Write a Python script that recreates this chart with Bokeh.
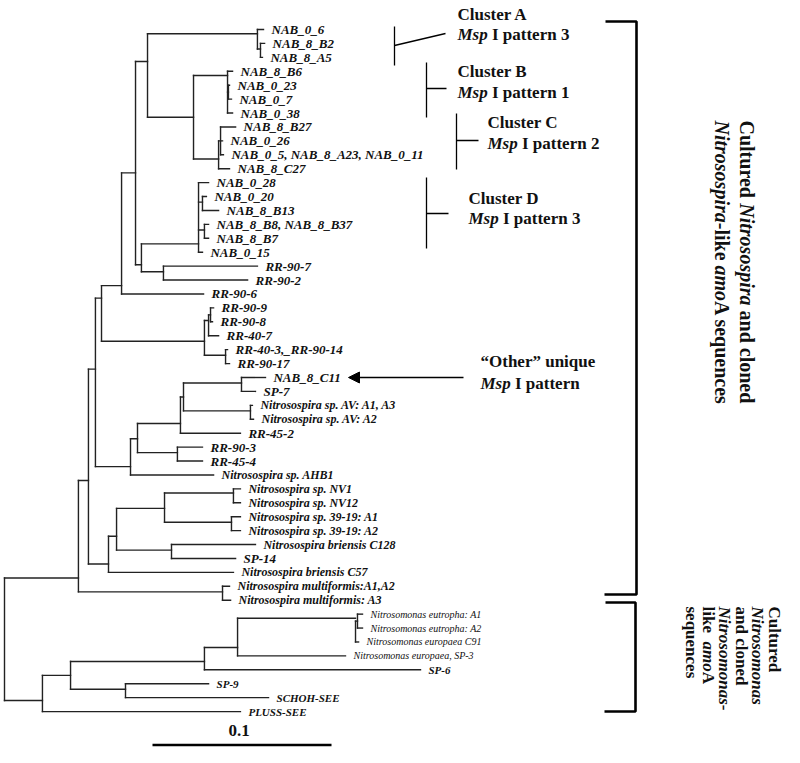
import math
from bokeh.plotting import figure
from bokeh.models import Range1d, Arrow, NormalHead
from bokeh.embed import file_html
from bokeh.resources import INLINE
from bokeh.core.properties import value

FONT = "Liberation Serif"

# ------------------------------------------------------------------ data
# leaves, top to bottom (row = index); parent node and distance from root
leaf_labels = [
    "NAB_0_6", "NAB_8_B2", "NAB_8_A5",
    "NAB_8_B6", "NAB_0_23", "NAB_0_7", "NAB_0_38",
    "NAB_8_B27", "NAB_0_26", "NAB_0_5, NAB_8_A23, NAB_0_11", "NAB_8_C27",
    "NAB_0_28", "NAB_0_20", "NAB_8_B13", "NAB_8_B8, NAB_8_B37", "NAB_8_B7", "NAB_0_15",
    "RR-90-7", "RR-90-2", "RR-90-6",
    "RR-90-9", "RR-90-8", "RR-40-7", "RR-40-3,_RR-90-14", "RR-90-17",
    "NAB_8_C11", "SP-7", "Nitrosospira sp. AV: A1, A3", "Nitrosospira sp. AV: A2",
    "RR-45-2", "RR-90-3", "RR-45-4", "Nitrosospira sp. AHB1",
    "Nitrosospira sp. NV1", "Nitrosospira sp. NV12",
    "Nitrosospira sp. 39-19: A1", "Nitrosospira sp. 39-19: A2",
    "Nitrosospira briensis C128", "SP-14", "Nitrosospira briensis C57",
    "Nitrosospira multiformis:A1,A2", "Nitrosospira multiformis: A3",
    "Nitrosomonas eutropha: A1", "Nitrosomonas eutropha: A2",
    "Nitrosomonas  europaea C91", "Nitrosomonas europaea, SP-3",
    "SP-6", "SP-9", "SCHOH-SEE", "PLUSS-SEE",
]
leaf_parent = [
    "CA", "CA2", "CA2",
    "CB", "CB2", "CB2", "CB",
    "CC2", "CC2", "CC2", "CC",
    "CD", "CDa", "CDa", "CDb", "CDb", "CD",
    "RRp", "RRp", "N122",
    "GRa1", "GRa1", "GRa", "GRb", "GRb",
    "N241", "N241", "AV", "AV",
    "N180", "N177", "N177", "N130",
    "NV", "NV", "N3919", "N3919",
    "N171", "N171", "N108",
    "MU", "MU",
    "NEU", "NEU", "N354", "N237",
    "N204", "N125", "N125", "N42",
]
leaf_depth = [
    0.1447, 0.1453, 0.1441,
    0.1274, 0.1257, 0.1268, 0.1274,
    0.1291, 0.1218, 0.1223, 0.1257,
    0.1140, 0.1128, 0.1196, 0.1140, 0.1140, 0.1106,
    0.1413, 0.1358, 0.1112,
    0.1168, 0.1162, 0.1196, 0.1246, 0.1257,
    0.1458, 0.1402, 0.1385, 0.1391,
    0.1318, 0.1106, 0.1106, 0.1168,
    0.1318, 0.1318, 0.1318, 0.1318,
    0.1402, 0.1291, 0.1279,
    0.1257, 0.1263,
    0.2000, 0.2000, 0.1978, 0.1905,
    0.2324, 0.1140, 0.1475, 0.1318,
]

# internal nodes: id, parent, distance from root, row (in leaf rows)
node_ids = ["R", "N78", "N42", "N88", "MU", "N95", "N108", "N101", "N130", "N122",
            "GRR", "N135", "Ntop", "NDRR", "CA", "CA2", "NBC", "CB", "CB2", "CC",
            "CC2", "CD", "CDa", "CDb", "RRp", "GRa", "GRa1", "GRb", "N137", "N180",
            "N177", "N183", "N241", "AV", "N116", "N164", "NV", "N3919", "N171",
            "N70", "N125", "N204", "N237", "N354", "NEU"]
node_parent = [None, "R", "R", "N78", "N78", "N88", "N88", "N95", "N95", "N101",
               "N101", "N122", "N135", "N135", "Ntop", "CA", "Ntop", "NBC", "CB", "NBC",
               "CC", "NDRR", "CD", "CD", "NDRR", "GRR", "GRa", "GRR", "N130", "N137",
               "N137", "N180", "N183", "N183", "N108", "N116", "N164", "N164", "N116",
               "N42", "N70", "N70", "N204", "N237", "N354"]
node_depth = [0.0, 0.0413, 0.0212, 0.0469, 0.1218, 0.0508, 0.0581, 0.0542, 0.0704, 0.0654,
              0.1117, 0.0732, 0.0799, 0.0765, 0.1413, 0.1430, 0.1056, 0.1246, 0.1251, 0.1196,
              0.1207, 0.1084, 0.1106, 0.1117, 0.0888, 0.1140, 0.1151, 0.1235, 0.0743, 0.0983,
              0.0966, 0.1000, 0.1324, 0.1374, 0.0626, 0.0894, 0.1279, 0.1268, 0.0933,
              0.0369, 0.0676, 0.1117, 0.1302, 0.1961, 0.1972]
node_row = [43.8, 39.4, 48.2, 32.4, 40.4, 24.4, 38.4, 19.3, 31.4, 18.4,
            22.4, 10.3, 2.3, 16.9, 0.3, 1.4, 6.3, 3.3, 4.5, 9.3,
            8.0, 15.4, 12.4, 14.4, 17.4, 20.9, 20.5, 23.4, 29.4, 28.3,
            30.4, 26.4, 25.4, 27.4, 36.4, 34.4, 33.3, 35.4, 37.4,
            46.4, 47.4, 45.4, 44.4, 42.3, 42.5]

scale_bar_length = 0.1
scale_bar_label = "0.1"

# ------------------------------------------------------------------ layout
PX0, PX_PER_UNIT = 4.0, 1790.0      # root pixel / pixels per unit distance
ROW0, ROW_PX = 29.0, 13.92          # first leaf pixel / pixels per row


def X(px):
    return (px - PX0) / PX_PER_UNIT


def Y(py):
    return (py - ROW0) / ROW_PX


W, H = 784, 747
p = figure(width=W, height=H,
           x_range=Range1d(X(0), X(W)), y_range=Range1d(Y(H), Y(0)),
           output_backend="svg", toolbar_location=None,
           x_axis_type=None, y_axis_type=None, min_border=0)
p.outline_line_color = None
p.background_fill_color = "white"

# ------------------------------------------------------------------ tree
depth = dict(zip(node_ids, node_depth))
row = dict(zip(node_ids, node_row))
parent = dict(zip(node_ids, node_parent))
for i, lab in enumerate(leaf_labels):
    key = "L%d" % i
    depth[key] = leaf_depth[i]
    row[key] = float(i)
    parent[key] = leaf_parent[i]

children = {}
for k, par in parent.items():
    if par is not None:
        children.setdefault(par, []).append(k)

x0, y0, x1, y1 = [], [], [], []
for k, par in parent.items():
    if par is None:
        continue
    x0.append(depth[par]); x1.append(depth[k]); y0.append(row[k]); y1.append(row[k])
for k, ch in children.items():
    rows = [row[c] for c in ch]
    x0.append(depth[k]); x1.append(depth[k]); y0.append(min(rows)); y1.append(max(rows))

p.segment(x0=x0, y0=y0, x1=x1, y1=y1, line_color="#222222", line_width=1.4,
          line_cap="square")


# leaf label styles derived from the clade / name
def in_clade(key, clade):
    while key is not None:
        if key == clade:
            return True
        key = parent[key]
    return False


groups = {}
for i, lab in enumerate(leaf_labels):
    key = "L%d" % i
    if lab.startswith("Nitrosomonas"):
        g = ("italic", "10px")
    elif in_clade(key, "N42"):
        g = ("bold italic", "11px")
    elif lab.startswith("Nitrosospira"):
        g = ("bold italic", "12px")
    else:
        g = ("bold italic", "13px")
    groups.setdefault(g, ([], [], []))
    groups[g][0].append(leaf_depth[i]); groups[g][1].append(float(i)); groups[g][2].append(lab)

for (style, size), (xs, ys, ts) in groups.items():
    p.text(x=xs, y=ys, text=ts, x_offset=8, text_font=value(FONT),
           text_font_style=style, text_font_size=size, text_baseline="middle",
           text_align="left", text_color="#111111")

# ------------------------------------------------------------------ scale bar
sb_x0 = X(152)
p.segment(x0=[sb_x0], x1=[sb_x0 + scale_bar_length], y0=[Y(744.5)], y1=[Y(744.5)],
          line_color="black", line_width=2.6)
p.text(x=[sb_x0 + scale_bar_length / 2], y=[Y(730)], text=[scale_bar_label],
       x_offset=-3, text_font=value(FONT), text_font_style="bold", text_font_size="17px",
       text_align="center", text_baseline="middle", text_color="#111111")

# ------------------------------------------------------------------ annotations
TB = {' ': 250, 'C': 722, 'u': 556, 'l': 278, 't': 333, 'r': 444, 'e': 444, 'd': 556,
      'a': 500, 'n': 556, 'c': 444, 'o': 500, '-': 333, 'i': 278, 'k': 556, 'A': 722,
      's': 389, 'q': 556, 'I': 389, 'p': 556, 'h': 556, 'O': 778, '\u201c': 500,
      '\u201d': 500, 'g': 500, 'N': 722, 'm': 833, 'M': 944}
TBI = {' ': 250, 'M': 889, 's': 389, 'p': 500, 'N': 722, 'i': 278, 't': 278, 'r': 389,
       'o': 500, 'a': 500, 'm': 778, 'n': 556}


def tw(s, style, size):
    table = TBI if "italic" in style else TB
    return sum(table.get(c, 500) for c in s) * size / 1000.0


def mixed(parts, px, py, size, vertical=False):
    pos = 0.0
    for txt, style in parts:
        core = txt.strip(' ')
        lead = len(txt) - len(txt.lstrip(' '))
        trail = len(txt) - len(txt.rstrip(' ')) if core else 0
        pos += lead * tw(' ', style, size)
        if core:
            if vertical:
                x, y, ang = px, py + pos, -math.pi / 2
            else:
                x, y, ang = px + pos, py, 0.0
            p.text(x=[X(x)], y=[Y(y)], text=[core], angle=ang, text_font=value(FONT),
                   text_font_style=style, text_font_size="%gpx" % size,
                   text_align="left", text_baseline="middle", text_color="#111111")
            pos += tw(core, style, size)
        pos += trail * tw(' ', style, size)


def pline(pts, width=1.3):
    p.line(x=[X(a) for a, b in pts], y=[Y(b) for a, b in pts],
           line_color="black", line_width=width)


B, BI = "bold", "bold italic"
# cluster labels (positions: left edge, cap centre)
mixed([("Cluster A", B)], 457, 14, 17)
mixed([("Msp", BI), (" I pattern 3", B)], 457, 34, 17)
mixed([("Cluster B", B)], 457, 71, 17)
mixed([("Msp", BI), (" I pattern 1", B)], 457, 91.5, 17)
mixed([("Cluster C", B)], 487, 122, 17)
mixed([("Msp", BI), (" I pattern 2", B)], 487, 142.5, 17)
mixed([("Cluster D", B)], 468, 197.5, 17)
mixed([("Msp", BI), (" I pattern 3", B)], 468, 217.5, 17)
mixed([("\u201cOther\u201d unique", B)], 480, 361, 17)
mixed([("Msp", BI), (" I pattern", B)], 480, 382.5, 17)

pline([(394, 26), (394, 65)])
pline([(394, 45), (445, 33)])
pline([(426, 62), (426, 117)])
pline([(426, 88), (446, 88)])
pline([(456, 113), (456, 169)])
pline([(456, 140), (478, 140)])
pline([(426, 177), (426, 248)])
pline([(426, 213), (448, 213)])

p.add_layout(Arrow(end=NormalHead(size=11, fill_color="black", line_color="black"),
                   x_start=X(463), y_start=Y(377), x_end=X(348), y_end=Y(377),
                   line_color="black", line_width=1.3))

# brackets
pline([(605, 21), (636, 21), (636, 594), (604, 594)], 2.6)
pline([(605, 602), (635, 602), (635, 711), (604, 711)], 2.6)

# vertical group labels
mixed([("Cultured ", B), ("Nitrosospira", BI), (" and cloned", B)], 746, 120, 20,
      vertical=True)
mixed([("Nitrosospira", BI), ("-like ", B), ("amo", BI), ("A sequences", B)], 721, 120, 20,
      vertical=True)

cols = [
    [("Cultured", B)],
    [("Nitrosomonas", BI)],
    [("and cloned", B)],
    [("Nitrosomonas", BI), ("-", B)],
    [("like  ", B), ("amo", BI), ("A", B)],
    [("sequences", B)],
]
for k, parts in enumerate(cols):
    mixed(parts, 774 - 16.6 * k, 606, 17, vertical=True)

open("out.html", "w").write(file_html(p, INLINE))
